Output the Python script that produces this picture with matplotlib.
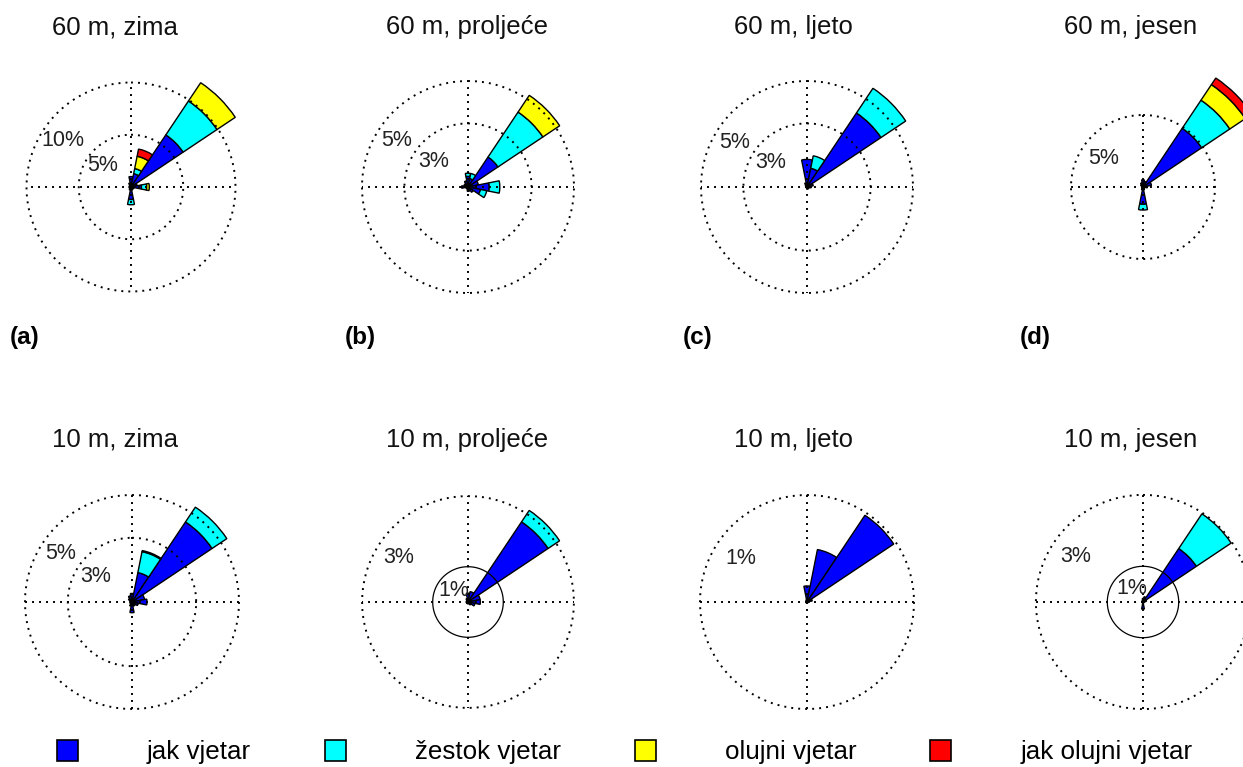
import numpy as np
import matplotlib
matplotlib.use("Agg")
import matplotlib.pyplot as plt
from matplotlib.patches import Patch

W, H = 1243, 767
plt.rcParams['font.family'] = ['Liberation Sans', 'DejaVu Sans']

smjerovi = ['N', 'NNE', 'NE', 'ENE', 'E', 'ESE', 'SE', 'SSE',
            'S', 'SSW', 'SW', 'WSW', 'W', 'WNW', 'NW', 'NNW']
klase = ['jak vjetar', 'žestok vjetar', 'olujni vjetar', 'jak olujni vjetar']
boje = ['#0000ff', '#00ffff', '#ffff00', '#ff0000']

# udio (%) po smjeru; retci: jak, žestok, olujni, jak olujni vjetar
#          N     NNE   NE    ENE   E     ESE   SE    SSE   S     SSW   SW    WSW   W     WNW   NW    NNW
zima_60 = [
    [1.0, 1.3, 6.0, 0.6, 1.0, 0.3, 0.2, 0.3, 1.2, 0.3, 0.2, 0.1, 0.2, 0.1, 0.2, 0.4],
    [0.0, 0.5, 3.9, 0.0, 0.5, 0.0, 0.0, 0.0, 0.5, 0.0, 0.0, 0.0, 0.0, 0.0, 0.0, 0.0],
    [0.0, 1.2, 2.1, 0.0, 0.25, 0.0, 0.0, 0.0, 0.0, 0.0, 0.0, 0.0, 0.0, 0.0, 0.0, 0.0],
    [0.0, 0.7, 0.0, 0.0, 0.0, 0.0, 0.0, 0.0, 0.0, 0.0, 0.0, 0.0, 0.0, 0.0, 0.0, 0.0],
]
proljece_60 = [
    [0.5, 0.4, 1.7, 0.5, 1.0, 0.6, 0.3, 0.2, 0.2, 0.1, 0.1, 0.1, 0.3, 0.2, 0.2, 0.3],
    [0.15, 0.25, 2.55, 0.0, 0.5, 0.3, 0.0, 0.0, 0.0, 0.0, 0.0, 0.0, 0.0, 0.0, 0.0, 0.0],
    [0.0, 0.0, 0.95, 0.0, 0.0, 0.0, 0.0, 0.0, 0.0, 0.0, 0.0, 0.0, 0.0, 0.0, 0.0, 0.0],
    [0.0] * 16,
]
ljeto_60 = [
    [1.3, 0.9, 4.2, 0.3, 0.2, 0.1, 0.1, 0.1, 0.1, 0.05, 0.05, 0.05, 0.05, 0.05, 0.1, 0.2],
    [0.0, 0.6, 1.4, 0.0, 0.0, 0.0, 0.0, 0.0, 0.0, 0.0, 0.0, 0.0, 0.0, 0.0, 0.0, 0.0],
    [0.0] * 16,
    [0.0] * 16,
]
jesen_60 = [
    [0.5, 0.4, 4.9, 0.6, 0.3, 0.1, 0.1, 0.2, 1.2, 0.2, 0.1, 0.05, 0.1, 0.1, 0.2, 0.3],
    [0.0, 0.0, 2.35, 0.0, 0.0, 0.0, 0.0, 0.0, 0.4, 0.0, 0.0, 0.0, 0.0, 0.0, 0.0, 0.0],
    [0.0, 0.0, 1.3, 0.0, 0.0, 0.0, 0.0, 0.0, 0.0, 0.0, 0.0, 0.0, 0.0, 0.0, 0.0, 0.0],
    [0.0, 0.0, 0.55, 0.0, 0.0, 0.0, 0.0, 0.0, 0.0, 0.0, 0.0, 0.0, 0.0, 0.0, 0.0, 0.0],
]
zima_10 = [
    [0.4, 1.4, 4.5, 0.6, 0.7, 0.3, 0.2, 0.2, 0.5, 0.2, 0.1, 0.1, 0.1, 0.1, 0.2, 0.3],
    [0.0, 1.0, 0.83, 0.0, 0.0, 0.0, 0.0, 0.0, 0.0, 0.0, 0.0, 0.0, 0.0, 0.0, 0.0, 0.0],
    [0.0, 0.05, 0.0, 0.0, 0.0, 0.0, 0.0, 0.0, 0.0, 0.0, 0.0, 0.0, 0.0, 0.0, 0.0, 0.0],
    [0.0] * 16,
]
proljece_10 = [
    [0.25, 0.3, 2.73, 0.35, 0.35, 0.2, 0.1, 0.05, 0.05, 0.05, 0.05, 0.05, 0.05, 0.05, 0.05, 0.1],
    [0.0, 0.0, 0.39, 0.0, 0.0, 0.0, 0.0, 0.0, 0.0, 0.0, 0.0, 0.0, 0.0, 0.0, 0.0, 0.0],
    [0.0] * 16,
    [0.0] * 16,
]
ljeto_10 = [
    [0.15, 0.5, 0.975, 0.05, 0.02, 0.01, 0.01, 0.01, 0.01, 0.01, 0.01, 0.01, 0.01, 0.01, 0.01, 0.02],
    [0.0] * 16,
    [0.0] * 16,
    [0.0] * 16,
]
jesen_10 = [
    [0.1, 0.15, 1.8, 0.1, 0.05, 0.03, 0.03, 0.03, 0.2, 0.03, 0.03, 0.03, 0.03, 0.03, 0.03, 0.05],
    [0.0, 0.0, 1.17, 0.0, 0.0, 0.0, 0.0, 0.0, 0.0, 0.0, 0.0, 0.0, 0.0, 0.0, 0.0, 0.0],
    [0.0] * 16,
    [0.0] * 16,
]

# naslov, slovo, podaci, središte (px), px po %, krugovi, puni krugovi, položaj oznaka (azimut, udio polumjera)
paneli = [
    ('60 m, zima', '(a)', zima_60, (131, 187), 10.45, [5, 10], [], [(-52, 0.68), (-56, 0.79)]),
    ('60 m, proljeće', '(b)', proljece_60, (468, 187), 21.2, [3, 5], [], [(-54, 0.67), (-57, 0.80)]),
    ('60 m, ljeto', '(c)', ljeto_60, (807, 187), 21.2, [3, 5], [], [(-56, 0.68), (-58, 0.80)]),
    ('60 m, jesen', '(d)', jesen_60, (1143, 187), 14.4, [5], [], [(-54, 0.68)]),
    ('10 m, zima', None, zima_10, (132, 602), 21.4, [3, 5], [], [(-55, 0.70), (-56, 0.81)]),
    ('10 m, proljeće', None, proljece_10, (468, 602), 35.3, [1, 3], [1], [(-51, 0.52), (-57, 0.78)]),
    ('10 m, ljeto', None, ljeto_10, (807, 602), 107.0, [1], [], [(-57, 0.74)]),
    ('10 m, jesen', None, jesen_10, (1143, 602), 35.7, [1, 3], [1], [(-40, 0.48), (-56, 0.76)]),
]
naslov_x = [115, 467, 793, 1131]
slovo_x = [10, 345, 683, 1020]

kut = np.deg2rad(np.arange(16) * 22.5)
sirina = np.deg2rad(22.5)
tocke = (0, (1.0, 2.6))

fig = plt.figure(figsize=(W / 100, H / 100), dpi=100)

for i, (naslov, slovo, podaci, (cx, cy), ppp, krugovi, puni, oznake) in enumerate(paneli):
    ukupno = np.sum(podaci, axis=0)
    rlim = 1.25 * max(ukupno.max(), max(krugovi))
    h = rlim * ppp
    ax = fig.add_axes([(cx - h) / W, (H - cy - h) / H, 2 * h / W, 2 * h / H], projection='polar')
    ax.set_theta_zero_location('N')
    ax.set_theta_direction(-1)
    ax.set_ylim(0, rlim)
    ax.set_axis_off()

    dno = np.zeros(16)
    for vrijednosti, boja in zip(podaci, boje):
        v = np.array(vrijednosti)
        m = v > 0
        if m.any():
            ax.bar(kut[m], v[m], width=sirina, bottom=dno[m], color=boja,
                   edgecolor='k', linewidth=1.0, zorder=3)
        dno += v

    t = np.linspace(0, 2 * np.pi, 500)
    for r in krugovi:
        if r in puni:
            ax.plot(t, np.full_like(t, r), color='k', lw=0.9, zorder=5)
        else:
            ax.plot(t, np.full_like(t, r), color='k', lw=1.4, ls=tocke, zorder=5)
    for th in np.deg2rad([0, 90, 180, 270]):
        ax.plot([th, th], [0, max(krugovi)], color='k', lw=1.4, ls=tocke, zorder=5)
    for r, (az, f) in zip(krugovi, oznake):
        ax.text(np.deg2rad(az), f * r, f'{r}%', ha='center', va='center',
                fontsize=15.5, color='#222222', zorder=6)

    red = i // 4
    fig.text(naslov_x[i % 4] / W, 1 - (27 if red == 0 else 440) / H, naslov,
             ha='center', va='center', fontsize=18.5, color='#111111')
    if slovo:
        fig.text(slovo_x[i % 4] / W, 1 - 337 / H, slovo, ha='left', va='center',
                 fontsize=17.5, fontweight='bold')

rucke = [Patch(facecolor=b, edgecolor='k', linewidth=1.2) for b in boje]
fig.legend(rucke, klase, loc='center left', bbox_to_anchor=(57 / W, 1 - 752 / H),
           ncol=4, frameon=False, fontsize=18.7, handlelength=0.81, handleheight=0.85,
           handletextpad=2.65, columnspacing=2.85, borderpad=0, borderaxespad=0)

fig.savefig('out.png', dpi=100)
